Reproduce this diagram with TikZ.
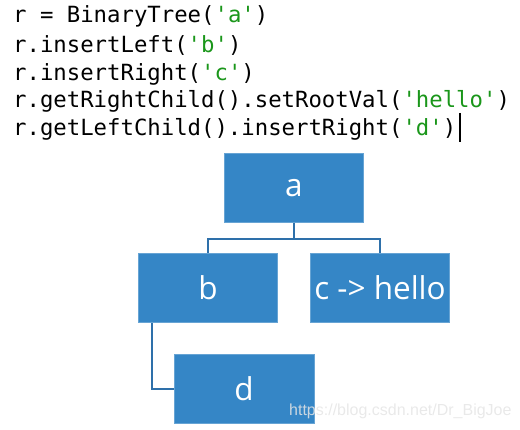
\documentclass[tikz,border=0pt]{standalone}
\usepackage{fontspec}
\setmainfont{Open Sans}
\setmonofont{DejaVu Sans Mono}
\newfontfamily\markfont{Liberation Sans}

\definecolor{boxblue}{RGB}{53,134,198}
\definecolor{edgeblue}{RGB}{46,112,170}
\definecolor{strgreen}{RGB}{26,150,26}
\newcommand{\str}[1]{\textcolor{strgreen}{#1}}

\tikzset{
  treebox/.style={fill=boxblue, draw=boxblue!75!white, line width=0.8pt,
    minimum width=139pt, minimum height=69pt, inner sep=0pt, text=white,
    font=\fontsize{31.5}{36}\selectfont},
  codeline/.style={anchor=base west, inner sep=0pt,
    font=\ttfamily\fontsize{22.3}{26}\selectfont},
  branch/.style={draw=edgeblue, line width=1.6pt}
}

\begin{document}
\begin{tikzpicture}[x=1pt,y=-1pt]
\useasboundingbox (0,0) rectangle (520,430);

% the code
\node[codeline] (line1) at (13,23) {r = BinaryTree(\str{'a'})};
\node[codeline] (line2) at (13,53) {r.insertLeft(\str{'b'})};
\node[codeline] (line3) at (13,81) {r.insertRight(\str{'c'})};
\node[codeline] (line4) at (13,108) {r.getRightChild().setRootVal(\str{'hello'})};
\node[codeline] (line5) at (13,136) {r.getLeftChild().insertRight(\str{'d'})};
\draw[line width=1.2pt] (460,113) -- (460,142);

% the tree
\node[treebox] (a) at (294,188) {a};
\node[treebox] (b) at (208,288) {b};
\node[treebox] (c) at (380,288) {c -> hello};
\node[treebox, minimum width=140pt] (d) at (244,389) {d};

\draw[branch] (a.south) -- ++(0,16) -| (b.north);
\draw[branch] (a.south) -- ++(0,16) -| (c.north);
\draw[branch] ([xshift=-56pt]b.south) |- (d.west);

\node[anchor=base west, inner sep=0pt, text=gray!20, text opacity=0.85,
  font=\markfont\fontsize{16}{18}\selectfont] (mark) at (289,416)
  {https://blog.csdn.net/Dr\_BigJoe};
\end{tikzpicture}
\end{document}
